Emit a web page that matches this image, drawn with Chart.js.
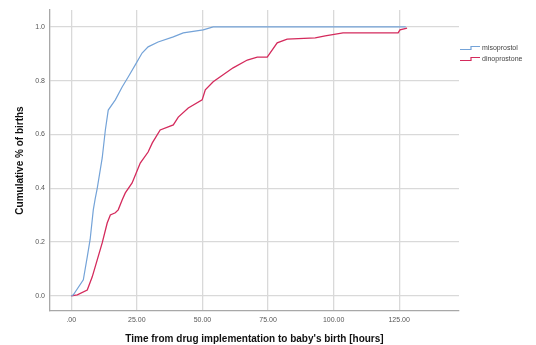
<!DOCTYPE html>
<html>
<head>
<meta charset="utf-8">
<script src="https://cdn.jsdelivr.net/npm/chart.js@4/dist/chart.umd.min.js"></script>
<style>
  html, body { margin: 0; padding: 0; background: #fff; }
  #wrap { width: 536px; height: 345px; }
</style>
</head>
<body>
<div id="wrap"><canvas id="myChart"></canvas></div>
<script>
// cumulative proportion of births over time (hours)
const misoHours = [0, 0.8, 4.6, 6.1, 7.2, 8.4, 9.1, 9.9, 11.8, 13.0, 14.1, 16.8, 19.4, 21.7, 24.4, 27.0, 29.3, 33.1, 38.9, 42.7, 50.3, 54.1, 127.5];
const misoCum   = [0, 0.004, 0.06, 0.145, 0.21, 0.32, 0.36, 0.40, 0.513, 0.617, 0.691, 0.729, 0.777, 0.814, 0.859, 0.903, 0.926, 0.944, 0.963, 0.978, 0.989, 1.0, 1.0];

const dinoHours = [0, 2.3, 6.1, 8.0, 9.9, 11.8, 13.7, 14.9, 16.8, 17.9, 19.4, 20.6, 23.2, 26.3, 29.3, 30.9, 33.9, 38.9, 40.8, 44.6, 49.9, 51.1, 54.1, 57.9, 61.7, 67.1, 70.9, 74.7, 78.5, 82.3, 93.0, 96.8, 103.6, 124.6, 125.3, 128.0];
const dinoCum   = [0, 0.004, 0.022, 0.071, 0.134, 0.197, 0.271, 0.301, 0.309, 0.320, 0.357, 0.383, 0.420, 0.494, 0.535, 0.569, 0.617, 0.636, 0.665, 0.699, 0.729, 0.766, 0.796, 0.822, 0.848, 0.877, 0.888, 0.888, 0.941, 0.955, 0.959, 0.967, 0.978, 0.978, 0.989, 0.996];

const seriesNames = ['misoprostol', 'dinoprostone'];
const seriesColors = ['#74a3d8', '#d42a5c'];

const xTicks = [0, 25, 50, 75, 100, 125];
const xTickLabels = ['.00', '25.00', '50.00', '75.00', '100.00', '125.00'];
const yTicks = [0, 0.2, 0.4, 0.6, 0.8, 1.0];
const yTickLabels = ['0.0', '0.2', '0.4', '0.6', '0.8', '1.0'];

function toPoints(xs, ys) {
  return xs.map((x, i) => ({x: x, y: ys[i]}));
}

// legend drawn by hand so the step glyph looks like the SPSS one
const stepLegend = {
  id: 'stepLegend',
  afterDraw(chart) {
    const ctx = chart.ctx;
    ctx.save();
    ctx.font = '7px "Liberation Sans", Arial, sans-serif';
    ctx.textBaseline = 'middle';
    seriesNames.forEach((name, i) => {
      const y = 48 + i * 11;
      ctx.strokeStyle = seriesColors[i];
      ctx.lineWidth = 1.2;
      ctx.beginPath();
      ctx.moveTo(460, y + 1.5);
      ctx.lineTo(471, y + 1.5);
      ctx.lineTo(471, y - 1.5);
      ctx.lineTo(480, y - 1.5);
      ctx.stroke();
      ctx.fillStyle = '#444';
      ctx.fillText(name, 482, y);
    });
    ctx.restore();
  }
};

const config = {
  type: 'line',
  data: {
    datasets: [
      {
        label: seriesNames[0],
        data: toPoints(misoHours, misoCum),
        borderColor: seriesColors[0],
        borderWidth: 1.2,
        pointRadius: 0,
        tension: 0,
        fill: false
      },
      {
        label: seriesNames[1],
        data: toPoints(dinoHours, dinoCum),
        borderColor: seriesColors[1],
        borderWidth: 1.3,
        pointRadius: 0,
        tension: 0,
        fill: false
      }
    ]
  },
  options: {
    responsive: true,
    maintainAspectRatio: false,
    animation: false,
    layout: { padding: { top: 10, right: 77, left: 0, bottom: 0 } },
    plugins: {
      legend: { display: false },
      tooltip: { enabled: false }
    },
    scales: {
      x: {
        type: 'linear',
        min: -8.1,
        max: 147.8,
        afterBuildTicks: s => { s.ticks = xTicks.map(v => ({value: v})); },
        afterFit: s => { s.height = 34; },
        ticks: {
          callback: (v) => xTickLabels[xTicks.indexOf(v)],
          font: { size: 7, family: '"Liberation Sans", Arial, sans-serif' },
          color: '#555',
          padding: 5,
          maxRotation: 0
        },
        grid: { color: '#d9d9d9', lineWidth: 1.3, drawTicks: false },
        border: { color: '#a8a8a8', width: 1.3 },
        title: {
          display: true,
          text: "Time from drug implementation to baby's birth [hours]",
          font: { size: 10, weight: 'bold', family: '"Liberation Sans", Arial, sans-serif' },
          color: '#111',
          padding: { top: 0, bottom: 0 }
        }
      },
      y: {
        min: -0.056,
        max: 1.063,
        afterBuildTicks: s => { s.ticks = yTicks.map(v => ({value: v})); },
        afterFit: s => { s.width = 50; },
        ticks: {
          callback: (v) => yTickLabels[yTicks.indexOf(v)],
          font: { size: 7, family: '"Liberation Sans", Arial, sans-serif' },
          color: '#555',
          padding: 5
        },
        grid: { color: '#d9d9d9', lineWidth: 1.3, drawTicks: false },
        border: { color: '#a8a8a8', width: 1.3 },
        title: {
          display: true,
          text: 'Cumulative % of births',
          font: { size: 10, weight: 'bold', family: '"Liberation Sans", Arial, sans-serif' },
          color: '#111',
          padding: { top: 14, bottom: 0 }
        }
      }
    }
  },
  plugins: [stepLegend]
};

new Chart(document.getElementById('myChart'), config);
</script>
</body>
</html>
